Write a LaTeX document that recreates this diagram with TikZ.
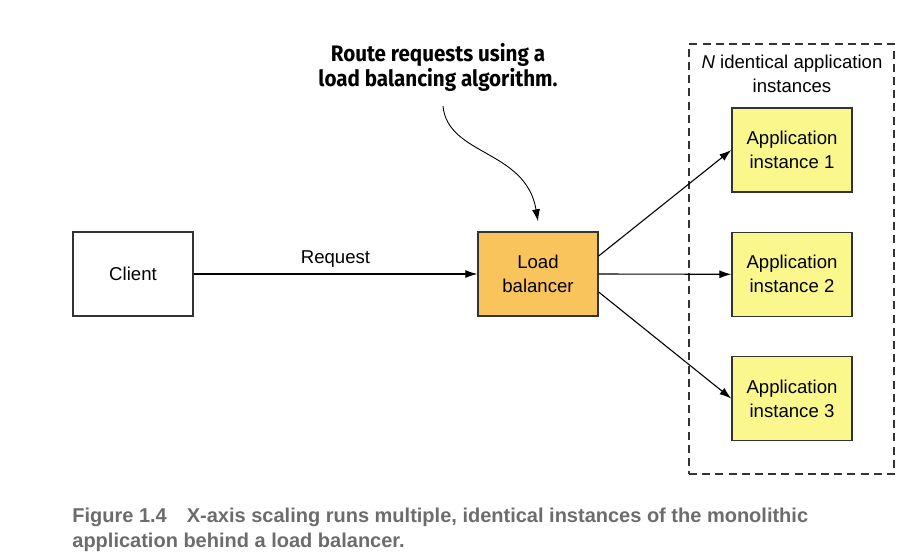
\documentclass[tikz,border=0pt]{standalone}
\usepackage{fontspec}
\setmainfont{Liberation Sans}
\newfontfamily\calloutfont[FakeStretch=0.92]{Fira Sans}
\usetikzlibrary{arrows.meta,positioning,fit}
\definecolor{lbfill}{RGB}{250,196,92}
\definecolor{appfill}{RGB}{250,247,140}
\definecolor{boxline}{RGB}{51,51,51}
\definecolor{captiongray}{RGB}{108,108,108}

\begin{document}
\begin{tikzpicture}[x=0.5pt, y=-0.5pt,
    boxtext/.style={font=\fontsize{9.3}{12}\selectfont, align=center},
    box/.style={boxtext, draw=boxline, line width=0.65pt, minimum width=60pt, minimum height=42pt, inner sep=0pt},
    lbbox/.style={box, fill=lbfill},
    appbox/.style={box, fill=appfill},
    arr/.style={-{Latex[length=6pt,width=4pt]}, line width=0.55pt},
    group/.style={draw=boxline, dash pattern=on 4pt off 2.6pt, line width=0.6pt, inner sep=0pt}]
  \useasboundingbox (0,0) rectangle (912,558);
  \node[box] (client) at (133,274) {Client};
  \node[lbbox] (lb) at (538,274) {Load\\balancer};
  \node[appbox] (app1) at (792,150) {Application\\instance 1};
  \node[appbox, below=19.5pt of app1] (app2) {Application\\instance 2};
  \node[appbox, below=19.5pt of app2] (app3) {Application\\instance 3};
  % dashed group round the instances
  \coordinate (grouptl) at (689,44);
  \coordinate (groupbr) at (894,474);
  \node[group, fit=(grouptl)(groupbr)] (group) {};
  \node[boxtext] (grouplabel) at (792,74) {\textit{N} identical application\\instances};
  \node[font=\calloutfont\bfseries\fontsize{11.2}{12.5}\selectfont, align=center] (callout) at (438,67) {Route requests using a\\load balancing algorithm.};
  \draw[arr] (client) -- node[boxtext, above=-0.5pt] (request) {Request} (lb);
  \draw[arr] ([yshift=9pt]lb.east) -- (app1.west);
  \draw[arr] (lb.east) -- (app2.west);
  \draw[arr] ([yshift=-9pt]lb.east) -- (app3.west);
  \draw[arr, line width=0.45pt] ([xshift=2.5pt,yshift=-4pt]callout.south) .. controls +(5,50) and +(-12,-72) .. ([yshift=5pt]lb.north);
  % caption
  \node[anchor=north west, inner sep=0pt, align=left, text=captiongray, font=\bfseries\fontsize{10}{12.5}\selectfont] (caption) at (72,508) {Figure 1.4\hspace{1em}X-axis scaling runs multiple, identical instances of the monolithic\\application behind a load balancer.};
\end{tikzpicture}
\end{document}
